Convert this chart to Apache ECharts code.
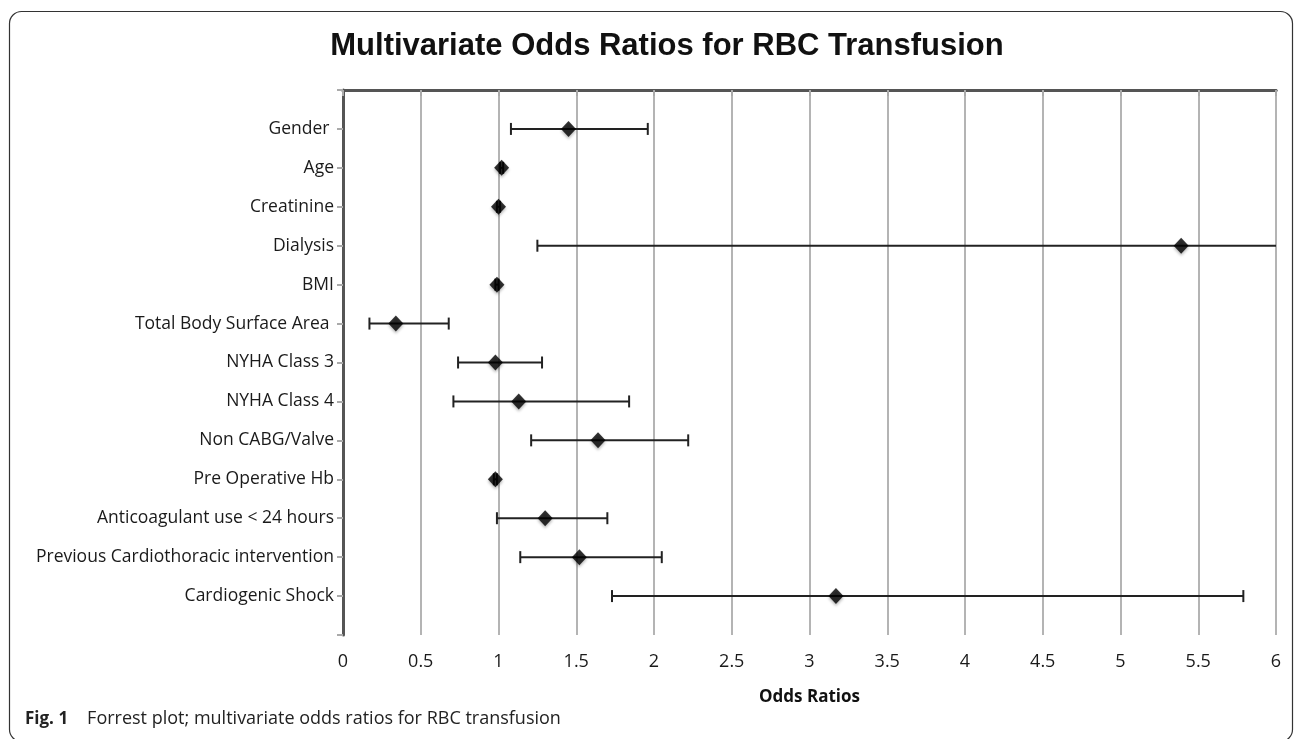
<!DOCTYPE html>
<html>
<head>
<meta charset="utf-8">
<script src="https://cdn.jsdelivr.net/npm/echarts@6/dist/echarts.min.js"></script>
<style>
html,body{margin:0;padding:0;background:#fff;}
#main{width:1295px;height:739px;}
</style>
</head>
<body>
<div id="main"></div>
<script>
// ---- data ----
const categories = [
  'Gender ', 'Age', 'Creatinine', 'Dialysis', 'BMI', 'Total Body Surface Area ',
  'NYHA Class 3', 'NYHA Class 4', 'Non CABG/Valve', 'Pre Operative Hb',
  'Anticoagulant use < 24 hours', 'Previous Cardiothoracic intervention', 'Cardiogenic Shock'
];
const oddsRatio = [1.45, 1.02, 1.00, 5.39, 0.99, 0.34, 0.98, 1.13, 1.64, 0.98, 1.30, 1.52, 3.17];
const ciLower   = [1.08, 1.01, 0.99, 1.25, 0.98, 0.17, 0.74, 0.71, 1.21, 0.97, 0.99, 1.14, 1.73];
const ciUpper   = [1.96, 1.03, 1.01, 6.40, 1.00, 0.68, 1.28, 1.84, 2.22, 0.99, 1.70, 2.05, 5.79];
const xTickValues = [0, 0.5, 1, 1.5, 2, 2.5, 3, 3.5, 4, 4.5, 5, 5.5, 6];
const titleText = 'Multivariate Odds Ratios for RBC Transfusion';
const xAxisName = 'Odds Ratios';
const captionBold = 'Fig. 1';
const captionText = 'Forrest plot; multivariate odds ratios for RBC transfusion';

// ---- build ----
const pointData = oddsRatio.map((v, i) => [v, i + 1]);
const ciData = oddsRatio.map((v, i) => [ciLower[i], ciUpper[i], i + 1]);

const chart = echarts.init(document.getElementById('main'), null, {renderer: 'canvas'});

const option = {
  backgroundColor: '#fff',
  animation: false,
  title: {
    text: titleText,
    left: 662,
    top: 26,
    textAlign: 'center',
    textStyle: {
      fontFamily: '"Liberation Sans", sans-serif',
      fontWeight: 'bold',
      fontSize: 31,
      color: '#111'
    }
  },
  graphic: [
    {
      type: 'rect',
      silent: true,
      shape: {x: 9.5, y: 11.5, width: 1283, height: 730, r: 12},
      style: {fill: 'none', stroke: '#333', lineWidth: 1.2},
      z: -10
    },
    {
      type: 'text',
      left: 25,
      top: 710,
      style: {
        text: '{b|' + captionBold + '}' + captionText,
        font: '18px "Open Sans", sans-serif',
        fill: '#222',
        rich: {
          b: {fontWeight: 'bold', fontSize: 17, fontFamily: '"Open Sans", sans-serif', fill: '#222', padding: [0, 19, 0, 0]}
        }
      }
    }
  ],
  grid: {
    left: 343,
    right: 19,
    top: 90,
    bottom: 104,
    containLabel: false
  },
  xAxis: [
    {
      type: 'value',
      min: 0,
      max: 6,
      interval: 0.5,
      position: 'bottom',
      name: xAxisName,
      nameLocation: 'middle',
      nameGap: 54,
      nameTextStyle: {
        fontFamily: '"Open Sans", sans-serif',
        fontWeight: 'bold',
        fontSize: 17,
        color: '#111'
      },
      axisLine: {show: true, lineStyle: {color: '#808080', width: 3}},
      axisTick: {show: true, length: 6, lineStyle: {color: '#aaa', width: 2}},
      axisLabel: {
        margin: 18,
        fontFamily: '"Open Sans", sans-serif',
        fontSize: 18,
        color: '#1a1a1a',
        formatter: v => (xTickValues.indexOf(v) >= 0 ? String(v) : '')
      },
      splitLine: {show: true, lineStyle: {color: '#b4b4b4', width: 2}}
    },
    {
      type: 'value',
      min: 0,
      max: 6,
      position: 'top',
      axisLine: {show: true, lineStyle: {color: '#555', width: 3}},
      axisTick: {show: false},
      axisLabel: {show: false},
      splitLine: {show: false}
    }
  ],
  yAxis: [
    {
      type: 'value',
      min: 0,
      max: 14,
      interval: 1,
      inverse: true,
      position: 'left',
      axisLine: {show: true, lineStyle: {color: '#9a9a9a', width: 2}},
      axisTick: {show: true, length: 6, lineStyle: {color: '#aaa', width: 2}},
      axisLabel: {
        margin: 9,
        fontFamily: '"Open Sans", sans-serif',
        fontSize: 17.5,
        color: '#1a1a1a',
        formatter: v => (v >= 1 && v <= categories.length ? categories[v - 1] : '')
      },
      splitLine: {show: false}
    },
    {
      type: 'value',
      min: 0,
      max: 14,
      inverse: true,
      position: 'right',
      axisLine: {show: true, lineStyle: {color: '#555', width: 3}},
      axisTick: {show: false},
      axisLabel: {show: false},
      splitLine: {show: false}
    }
  ],
  series: [
    {
      type: 'custom',
      name: 'CI',
      xAxisIndex: 0,
      yAxisIndex: 0,
      clip: true,
      data: ciData,
      renderItem: function (params, api) {
        const yv = api.value(2);
        const p1 = api.coord([api.value(0), yv]);
        const p2 = api.coord([api.value(1), yv]);
        const h = 6;
        const st = {stroke: '#222', lineWidth: 2};
        return {
          type: 'group',
          children: [
            {type: 'line', shape: {x1: p1[0], y1: p1[1], x2: p2[0], y2: p2[1]}, style: st},
            {type: 'line', shape: {x1: p1[0], y1: p1[1] - h, x2: p1[0], y2: p1[1] + h}, style: st},
            {type: 'line', shape: {x1: p2[0], y1: p2[1] - h, x2: p2[0], y2: p2[1] + h}, style: st}
          ]
        };
      },
      z: 3
    },
    {
      type: 'scatter',
      name: 'OR',
      xAxisIndex: 0,
      yAxisIndex: 0,
      symbol: 'diamond',
      symbolSize: [15, 16],
      data: pointData,
      itemStyle: {
        color: '#000',
        shadowBlur: 3,
        shadowColor: 'rgba(0,0,0,0.35)',
        shadowOffsetY: 2
      },
      z: 4
    }
  ]
};

chart.setOption(option);
</script>
</body>
</html>
